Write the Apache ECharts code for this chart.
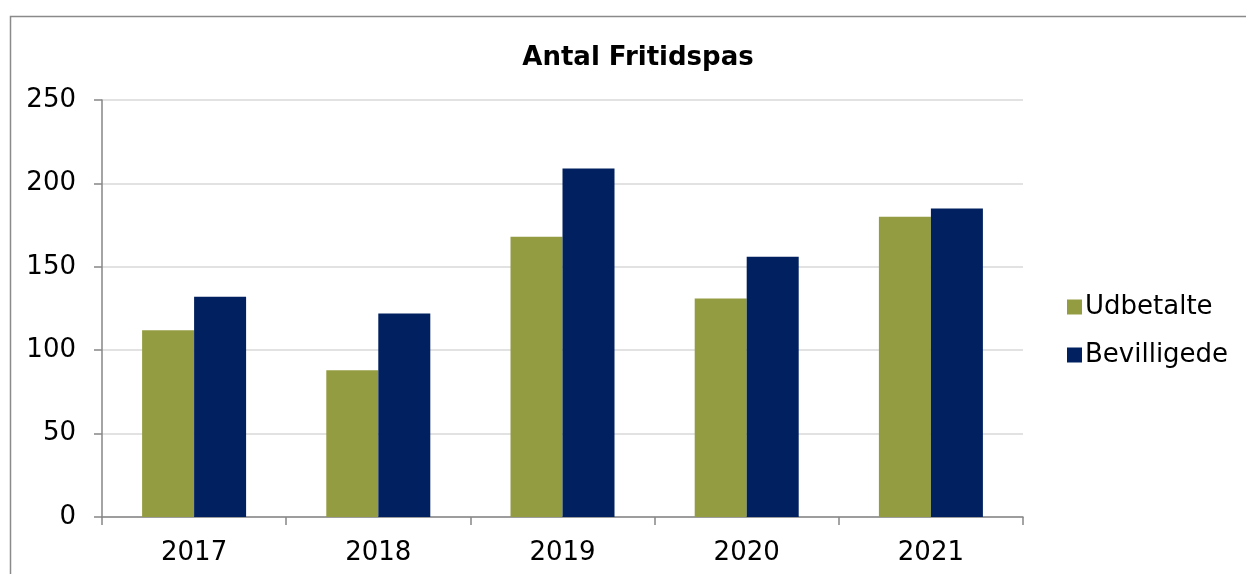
<!DOCTYPE html>
<html>
<head>
<meta charset="utf-8">
<style>
  html, body { margin: 0; padding: 0; background: #fff; }
  #chart { width: 1246px; height: 574px; }
</style>
<script src="https://cdn.jsdelivr.net/npm/echarts@6/dist/echarts.min.js"></script>
</head>
<body>
<div id="chart"></div>
<script>
// Yearly counts of leisure passes: paid out vs. granted
const years = ['2017', '2018', '2019', '2020', '2021'];
const udbetalte = [112, 88, 168, 131, 180];
const bevilligede = [132, 122, 209, 156, 185];
const yTicks = { min: 0, max: 250, interval: 50 };

const FONT = 'DejaVu Sans, Verdana, sans-serif';
const chart = echarts.init(document.getElementById('chart'), null, { renderer: 'canvas' });

chart.setOption({
  animation: false,
  backgroundColor: '#ffffff',
  textStyle: { fontFamily: FONT },
  graphic: [{
    type: 'rect',
    left: 8, top: 14,
    shape: { width: 1400, height: 700 },
    style: { fill: 'none', stroke: '#8a8a8a', lineWidth: 1.5 },
    silent: true
  }],
  title: {
    text: 'Antal Fritidspas',
    left: 633, top: 40,
    textAlign: 'center',
    textStyle: { fontFamily: FONT, fontSize: 26, fontWeight: 'bold', color: '#000' }
  },
  legend: {
    orient: 'vertical',
    left: 1062, top: 289,
    itemWidth: 15, itemHeight: 15,
    itemGap: 22,
    icon: 'rect',
    textStyle: { fontFamily: FONT, fontSize: 26, color: '#000', padding: [0, 0, 0, -2] },
    data: ['Udbetalte', 'Bevilligede']
  },
  grid: { left: 102, right: 223, top: 100, bottom: 57, containLabel: false },
  xAxis: {
    type: 'category',
    data: years,
    axisLine: { lineStyle: { color: '#868686', width: 1.5 } },
    axisTick: { show: true, length: 8, alignWithLabel: false, lineStyle: { color: '#868686', width: 1.5 } },
    axisLabel: { fontFamily: FONT, fontSize: 26, color: '#000', margin: 23 },
    splitLine: { show: false }
  },
  yAxis: {
    type: 'value',
    min: yTicks.min, max: yTicks.max, interval: yTicks.interval,
    axisLine: { show: true, lineStyle: { color: '#868686', width: 1.5 } },
    axisTick: { show: true, length: 8, lineStyle: { color: '#868686', width: 1.5 } },
    axisLabel: { fontFamily: FONT, fontSize: 26, color: '#000', margin: 26 },
    splitLine: { show: true, lineStyle: { color: '#d9d9d9', width: 1.5 } }
  },
  series: [
    {
      name: 'Udbetalte',
      type: 'bar',
      data: udbetalte,
      barWidth: 52,
      barGap: '0%',
      itemStyle: { color: '#949c41' }
    },
    {
      name: 'Bevilligede',
      type: 'bar',
      data: bevilligede,
      barWidth: 52,
      barGap: '0%',
      itemStyle: { color: '#00205f' }
    }
  ]
});
</script>
</body>
</html>
